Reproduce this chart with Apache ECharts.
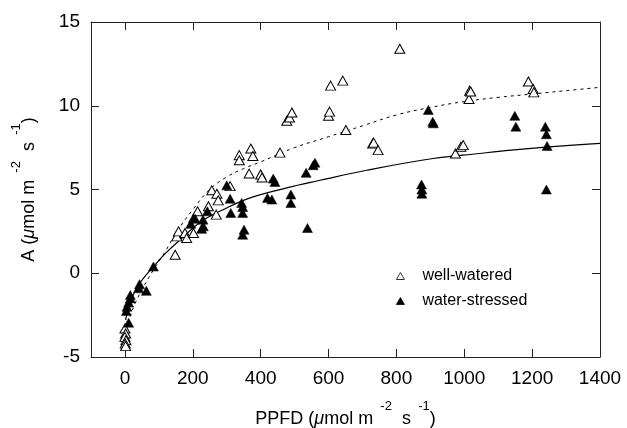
<!DOCTYPE html>
<html><head><meta charset="utf-8">
<script src="https://cdn.jsdelivr.net/npm/echarts@6/dist/echarts.min.js"></script>
<style>html,body{margin:0;padding:0;background:#fff}#c{width:627px;height:428px}</style>
</head><body><div id="c"></div>
<script>
// ---- data ----
const xTicks = [0, 200, 400, 600, 800, 1000, 1200, 1400];
const yTicks = [-5, 0, 5, 10, 15];
const wellWatered = [
  [0,-3.3],[2,-3.6],[0,-3.8],[3,-4.0],[1,-4.2],[2,-4.35],
  [148,1.1],[153,2.2],[158,2.5],[177,2.4],[182,2.1],[202,2.4],[214,3.7],
  [246,4.0],[269,3.5],[256,4.95],[271,4.75],[275,4.35],[310,5.2],
  [337,7.05],[337,6.75],[371,7.45],[377,7.0],[366,5.95],[400,5.9],[404,5.72],
  [457,7.2],[477,9.1],[485,9.3],[492,9.6],[600,9.4],[603,9.65],[606,11.2],
  [642,11.5],[651,8.55],[730,7.75],[733,7.8],[746,7.35],[810,13.4],
  [974,7.15],[990,7.55],[997,7.65],[1014,10.4],[1016,10.9],[1019,10.85],
  [1189,11.45],[1203,11.0],[1205,10.8]
];
const waterStressed = [
  [16,-1.3],[16,-1.5],[11,-1.75],[6,-2.0],[4,-2.25],[11,-2.95],
  [40,-0.9],[43,-0.65],[63,-1.05],[84,0.4],
  [194,2.95],[202,3.3],[207,3.25],[226,2.65],[231,2.8],[230,3.2],[243,3.7],
  [300,5.25],[310,4.45],[312,3.6],[344,4.2],[347,3.95],[347,3.6],[351,2.6],[347,2.3],
  [420,4.5],[433,4.4],[437,5.65],[442,5.45],[489,4.7],[489,4.2],
  [534,6.0],[555,6.45],[560,6.6],[538,2.7],
  [874,5.3],[875,5.0],[875,4.75],[894,9.75],[907,9.05],[909,8.95],
  [1149,9.4],[1152,8.75],[1239,8.75],[1242,8.3],[1244,7.6],[1242,5.0]
];
const wellCurve = [
  [3,-3.4],[15,-2.6],[30,-1.8],[55,-0.8],[84,0.2],[119,1.3],[150,2.4],[200,3.8],
  [250,5.0],[300,5.75],[350,6.25],[400,6.65],[500,7.5],[600,8.15],[700,8.8],
  [800,9.45],[900,9.9],[1000,10.25],[1100,10.5],[1200,10.7],[1300,10.9],[1400,11.1]
];
const stressCurve = [
  [2,-2.8],[10,-2.1],[20,-1.5],[40,-0.7],[84,0.4],[120,1.2],[163,2.0],[222,3.05],
  [300,3.9],[369,4.5],[477,5.1],[575,5.55],[712,6.15],[908,6.85],[1046,7.15],
  [1164,7.4],[1400,7.75]
];
const seriesNames = ['well-watered', 'water-stressed'];

// ---- chart ----
const FONT = '"Liberation Sans", Arial, Helvetica, sans-serif';
const C = '#000';
const chart = echarts.init(document.getElementById('c'));
const axisLine = () => ({show: true, onZero: false, lineStyle: {color: '#222', width: 1}});
const tickStyle = (vals) => {
  const t = {show: true, inside: true, length: 8, lineStyle: {color: '#222', width: 1}};
  if (vals) t.customValues = vals;
  return t;
};
const nameRich = {
  b: {fontSize: 18, fontFamily: FONT, color: C, lineHeight: 28, verticalAlign: 'bottom'},
  i: {fontSize: 18, fontFamily: FONT, color: C, fontStyle: 'italic', lineHeight: 28, verticalAlign: 'bottom'},
  s: {fontSize: 13, fontFamily: FONT, color: C, lineHeight: 28, verticalAlign: 'top'}
};
const nameText = (lead) => '{b|' + lead + ' (}{i|μ}{b|mol m}{s|  -2}{b|  s}{s|  -1}{b|)}';
chart.setOption({
  animation: false,
  textStyle: {fontFamily: FONT},
  grid: {left: 91, right: 27, top: 22, bottom: 71, outerBoundsMode: 'none', containLabel: false},
  legend: {
    orient: 'vertical', left: 391, top: 263, itemGap: 9,
    itemWidth: 8, itemHeight: 7,
    data: seriesNames.map(n => ({name: n, icon: 'triangle'})),
    itemStyle: {borderWidth: 0.8, opacity: 1},
    textStyle: {fontSize: 16, color: C, fontFamily: FONT, padding: [0, 0, 0, 13]}
  },
  xAxis: [{
    type: 'value', min: -100, max: 1400, position: 'bottom',
    splitLine: {show: false}, axisLine: axisLine(), axisTick: tickStyle(xTicks),
    axisLabel: {customValues: xTicks, fontSize: 19, color: C, margin: 12, fontFamily: FONT,
                formatter: v => String(v)},
    name: nameText('PPFD'),
    nameLocation: 'middle', nameGap: 43,
    nameTextStyle: {rich: nameRich}
  }, {
    type: 'value', min: -100, max: 1400, position: 'top',
    splitLine: {show: false}, axisLine: axisLine(), axisTick: tickStyle(xTicks),
    axisLabel: {show: false}
  }],
  yAxis: [{
    type: 'value', min: -5, max: 15, interval: 5, position: 'left',
    splitLine: {show: false}, axisLine: axisLine(), axisTick: tickStyle(),
    axisLabel: {fontSize: 19, color: C, margin: 11, fontFamily: FONT},
    name: nameText('A'),
    nameLocation: 'middle', nameGap: 53, nameRotate: 90,
    nameTextStyle: {rich: nameRich}
  }, {
    type: 'value', min: -5, max: 15, interval: 5, position: 'right',
    splitLine: {show: false}, axisLine: axisLine(), axisTick: tickStyle(),
    axisLabel: {show: false}
  }],
  series: [
    {name: seriesNames[0], type: 'scatter', data: wellWatered, symbol: 'triangle', symbolSize: [10, 9],
     itemStyle: {color: '#fff', borderColor: C, borderWidth: 1, opacity: 1}, z: 4},
    {name: seriesNames[1], type: 'scatter', data: waterStressed, symbol: 'triangle', symbolSize: [10, 9],
     itemStyle: {color: C, borderColor: C, borderWidth: 0.5, opacity: 1}, z: 5},
    {name: 'well-fit', type: 'line', data: wellCurve, smooth: 0.4, showSymbol: false, symbol: 'none',
     lineStyle: {color: C, width: 1, type: [3, 4]}, z: 3},
    {name: 'stress-fit', type: 'line', data: stressCurve, smooth: 0.4, showSymbol: false, symbol: 'none',
     lineStyle: {color: C, width: 1.2}, z: 3}
  ]
});
</script></body></html>
